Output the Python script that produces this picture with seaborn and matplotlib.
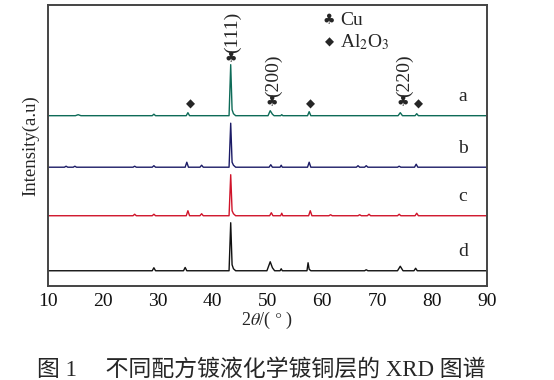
import numpy as np
import pandas as pd
import seaborn as sns
import matplotlib.pyplot as plt

# XRD patterns (2theta in degrees, intensity in a.u. above each baseline)
theta_a = [10, 15.0, 15.5, 16.0, 29.0, 29.3, 29.6, 35.2, 35.5, 35.8, 43.0, 43.3, 43.55, 43.8, 44.2,
           50.1, 50.5, 50.9, 51.2, 52.4, 52.6, 52.8, 57.3, 57.6, 57.9, 73.8, 74.2, 74.6, 76.9, 77.2, 77.5, 90]
inten_a = [0, 0, 1.0, 0, 0, 1.5, 0, 0, 3.0, 0, 0, 51, 6, 2, 0,
           0, 5.0, 1.5, 0, 0, 1.0, 0, 0, 4.0, 0, 0, 3.0, 0, 0, 2.0, 0, 0]

theta_b = [10, 13.0, 13.3, 13.6, 14.6, 14.9, 15.2, 25.5, 25.8, 26.1, 29.0, 29.3, 29.6, 35.0, 35.3, 35.6,
           37.7, 38.0, 38.3, 43.0, 43.3, 43.55, 43.8, 44.2, 50.3, 50.6, 50.9, 52.3, 52.5, 52.7,
           57.3, 57.6, 57.9, 66.2, 66.5, 66.8, 67.7, 68.0, 68.3, 73.7, 74.0, 74.3, 76.8, 77.1, 77.4, 90]
inten_b = [0, 0, 1.0, 0, 0, 1.0, 0, 0, 1.0, 0, 0, 1.5, 0, 0, 5.0, 0,
           0, 2.0, 0, 0, 44, 5, 2, 0, 0, 2.5, 0, 0, 2.0, 0,
           0, 5.0, 0, 0, 1.5, 0, 0, 1.5, 0, 0, 1.0, 0, 0, 3.0, 0, 0]

theta_c = [10, 25.5, 25.8, 26.1, 29.0, 29.3, 29.6, 35.2, 35.5, 35.8, 37.7, 38.0, 38.3, 43.0, 43.3, 43.55,
           43.8, 44.2, 50.4, 50.7, 51.0, 52.4, 52.6, 52.8, 57.5, 57.8, 58.1, 61.2, 61.5, 61.8,
           66.5, 66.8, 67.1, 68.2, 68.5, 68.8, 73.7, 74.0, 74.3, 76.9, 77.2, 77.5, 90]
inten_c = [0, 0, 1.5, 0, 0, 1.5, 0, 0, 5.0, 0, 0, 2.0, 0, 0, 41, 5,
           2, 0, 0, 3.0, 0, 0, 2.5, 0, 0, 5.0, 0, 0, 1.0, 0,
           0, 1.0, 0, 0, 1.5, 0, 0, 1.5, 0, 0, 2.5, 0, 0]

theta_d = [10, 29.0, 29.3, 29.6, 34.7, 35.0, 35.3, 43.0, 43.3, 43.55, 43.8, 44.2, 49.9, 50.5, 50.9,
           51.3, 52.3, 52.5, 52.7, 57.2, 57.4, 57.6, 57.9, 67.7, 68.0, 68.3, 73.7, 74.2, 74.7,
           76.7, 77.0, 77.3, 90]
inten_d = [0, 0, 3.0, 0, 0, 3.3, 0, 0, 48, 6, 2, 0, 0, 9.0, 3.0,
           0, 0, 2.0, 0, 0, 8.0, 1.5, 0, 0, 1.0, 0, 0, 4.5, 0,
           0, 2.5, 0, 0]

sample_labels = ['a', 'b', 'c', 'd']
patterns = [(theta_a, inten_a), (theta_b, inten_b), (theta_c, inten_c), (theta_d, inten_d)]

# Cu (club) and Al2O3 (diamond) markers on pattern a
cu_peaks = [43.3, 50.8, 74.7]
cu_hkl = ['(111)', '(200)', '(220)']
al2o3_peaks = [35.9, 57.8, 77.5]

# vertical stacking and colours
offsets = [170, 118.5, 70, 15]
colors = ['#0e6b58', '#1b1b66', '#d0142a', '#111111']

sns.set_theme(style='white')
plt.rcParams['font.family'] = ['Liberation Serif', 'DejaVu Sans']
plt.rcParams['mathtext.fontset'] = 'stix'

fig = plt.figure(figsize=(5.54, 3.80), dpi=100)
ax = fig.add_axes([0.0866, 0.248, 0.7924, 0.739])

rows = []
for lab, (tt, ii), off in zip(sample_labels, patterns, offsets):
    for t, i in zip(tt, ii):
        rows.append({'theta': t, 'intensity': i + off, 'sample': lab})
df = pd.DataFrame(rows)

sns.lineplot(data=df, x='theta', y='intensity', hue='sample', palette=colors,
             estimator=None, sort=True, linewidth=1.0, legend=False, ax=ax)

# sample labels at the right
for lab, off in zip(sample_labels, offsets):
    ax.text(85.6, off + 19, lab, fontsize=14, ha='center', va='center')

# peak markers and Miller indices
sym_font = ['DejaVu Sans']
base_a = offsets[0]
for p, hkl in zip(cu_peaks, cu_hkl):
    top = base_a + (57 if hkl == '(111)' else 13)
    ax.text(p, top, '\u2663', family=sym_font, fontsize=10, ha='center', va='center')
    ax.text(p + 0.3, top + 6, hkl, rotation=90, fontsize=14, ha='center', va='bottom')
for p in al2o3_peaks:
    ax.text(p, base_a + 12, '\u25c6', family=sym_font, fontsize=8.5, ha='center', va='center')

# legend of phases
ax.text(61.2, 265, '\u2663', family=sym_font, fontsize=10, ha='center', va='center')
ax.text(63.3, 265, 'Cu', fontsize=14, ha='left', va='center')
ax.text(61.3, 244, '\u25c6', family=sym_font, fontsize=8.5, ha='center', va='center')
ax.text(63.3, 244, 'Al$_2$O$_3$', fontsize=14, ha='left', va='center')

ax.set_xlim(10, 90)
ax.set_ylim(0, 280.7)
ax.set_xticks(np.arange(10, 91, 10))
ax.set_yticks([])
ax.tick_params(axis='x', direction='in', length=5, width=1.2, labelsize=14, pad=5, colors='#111111')
ax.set_xlabel(r'2$\theta$/( $\degree$ )', fontsize=13, labelpad=0)
ax.set_ylabel('Intensity(a.u)', fontsize=13.5, labelpad=6)
for s in ax.spines.values():
    s.set_linewidth(1.4)
    s.set_color('#444444')

fig.text(0.471, 0.026, '图 1\u3000 不同配方镀液化学镀铜层的 XRD 图谱', fontsize=16.5,
         ha='center', va='center', family=['Liberation Serif', 'Noto Sans CJK SC'])

fig.savefig('out.png', dpi=100)
